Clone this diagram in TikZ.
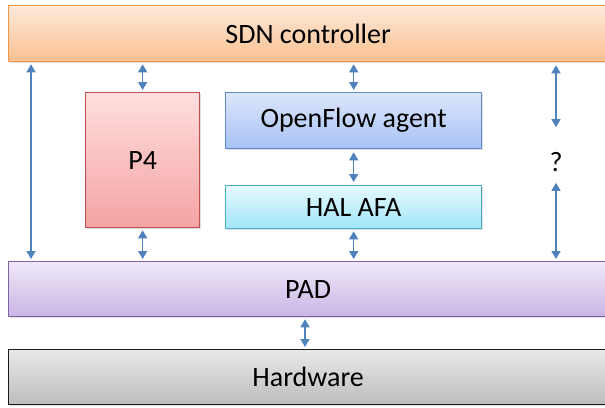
\documentclass[tikz,border=0pt]{standalone}
\usepackage{fontspec}
\setmainfont{Carlito}
\usetikzlibrary{arrows.meta,shadows,calc}
\definecolor{arrowblue}{HTML}{4F81BD}
\definecolor{sdnTop}{HTML}{FDEADA}\definecolor{sdnBot}{HTML}{FAC08F}\definecolor{sdnLine}{HTML}{F79646}
\definecolor{pfTop}{HTML}{FFDEDE}\definecolor{pfBot}{HTML}{F4A3A3}\definecolor{pfLine}{HTML}{C0504D}
\definecolor{ofTop}{HTML}{DCE6FB}\definecolor{ofBot}{HTML}{A7C2F4}\definecolor{ofLine}{HTML}{5F8BCF}
\definecolor{halTop}{HTML}{E6F9FE}\definecolor{halBot}{HTML}{A0E6F8}\definecolor{halLine}{HTML}{4BACC6}
\definecolor{padTop}{HTML}{EFE8F8}\definecolor{padBot}{HTML}{C9B5E5}\definecolor{padLine}{HTML}{8064A2}
\definecolor{hwTop}{HTML}{E8E8E8}\definecolor{hwBot}{HTML}{BDBDBD}\definecolor{hwLine}{HTML}{1A1A1A}
\tikzset{
  layer/.style={draw, line width=1.3pt, anchor=north west, inner sep=0pt,
    font=\fontsize{28}{32}\selectfont,
    drop shadow={shadow xshift=1pt, shadow yshift=-1.5pt, opacity=0.25}},
  link/.style={draw=arrowblue, line width=1.4pt,
    {Triangle[width=9pt,length=8pt]}-{Triangle[width=9pt,length=8pt]}},
}
\begin{document}
\begin{tikzpicture}[x=1pt,y=-1pt]
\useasboundingbox (0,0) rectangle (605,407);
\clip (0,0) rectangle (605,407);

% layers spanning the full width
\node[layer, draw=sdnLine, top color=sdnTop, bottom color=sdnBot,
  minimum width=599pt, minimum height=56pt] (sdn) at (8,5) {SDN controller};
\node[layer, draw=padLine, top color=padTop, bottom color=padBot,
  minimum width=599pt, minimum height=55pt] (pad) at (8,261) {PAD};
\node[layer, draw=hwLine, top color=hwTop, bottom color=hwBot,
  minimum width=599pt, minimum height=55pt] (hw) at (8,349) {Hardware};

% middle blocks
\node[layer, draw=pfLine, top color=pfTop, bottom color=pfBot,
  minimum width=114pt, minimum height=135pt] (p4) at (85,92) {P4};
\node[layer, draw=ofLine, top color=ofTop, bottom color=ofBot,
  minimum width=256pt, minimum height=56pt] (ofa) at (225,92) {OpenFlow agent};
\node[layer, draw=halLine, top color=halTop, bottom color=halBot,
  minimum width=256pt, minimum height=43pt] (hal) at (225,185) {HAL AFA};

\node[font=\fontsize{28}{32}\selectfont, inner sep=0pt] (q) at (556,162) {?};

% connector columns
\coordinate (left) at (31,0);
\coordinate (right) at (556,0);

\draw[link, shorten <=2pt, shorten >=2pt] (sdn.south -| left) -- (pad.north -| left);
\draw[link, shorten <=2pt, shorten >=2pt] (sdn.south -| p4.center) -- (p4.north);
\draw[link, shorten <=2pt, shorten >=2pt] (p4.south) -- (pad.north -| p4.center);
\draw[link, shorten <=2pt, shorten >=2pt] (sdn.south -| ofa.center) -- (ofa.north);
\draw[link, shorten <=3pt, shorten >=3pt] (ofa.south) -- (hal.north);
\draw[link, shorten <=2pt, shorten >=2pt] (hal.south) -- (pad.north -| hal.center);
\draw[link, shorten <=3pt, shorten >=25pt] (sdn.south -| right) -- (q.north);
\draw[link, shorten <=11pt, shorten >=2pt] (q.south) -- (pad.north -| right);
\draw[link, shorten <=2pt, shorten >=2pt] (pad.south -| 305,0) -- (hw.north -| 305,0);
\end{tikzpicture}
\end{document}
